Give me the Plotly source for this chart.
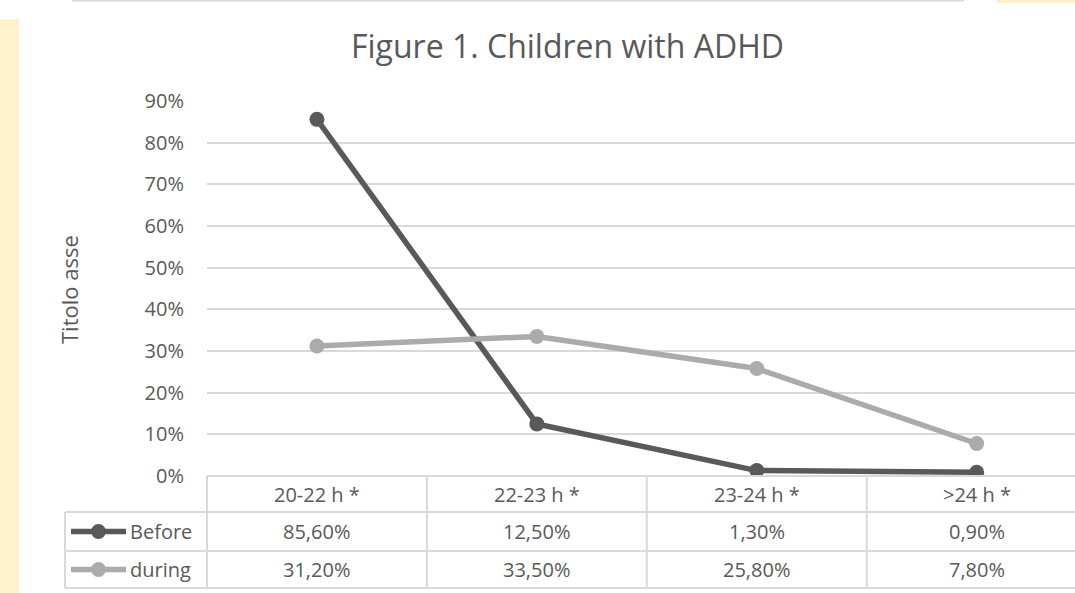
import plotly.graph_objects as go

categories = ["20-22 h *", "22-23 h *", "23-24 h *", ">24 h *"]
series_names = ["Before", "during"]
before = [0.856, 0.125, 0.013, 0.009]
during = [0.312, 0.335, 0.258, 0.078]
series_values = [before, during]
series_colors = ["#595959", "#ABABAB"]
y_ticks = [0, 0.1, 0.2, 0.3, 0.4, 0.5, 0.6, 0.7, 0.8, 0.9]

W, H = 1075, 593
FONT = "Open Sans"
TXT = "#595959"
GRID = "#D9D9D9"

def px(x):
    return x / W

def py(y):
    return 1 - y / H

# plot area in pixels
X0, X1 = 207, 1075
Y_TOP, Y_BOT = 101, 476
col_w = 219.9
x_range = [-0.5, -0.5 + (X1 - X0) / col_w]

fig = go.Figure()
xs = list(range(len(categories)))
for name, vals, col in zip(series_names, series_values, series_colors):
    fig.add_trace(go.Scatter(
        x=xs, y=vals, name=name, mode="lines+markers",
        line=dict(color=col, width=5.5),
        marker=dict(color=col, size=15),
        showlegend=False, hoverinfo="skip"))

shapes = []
annotations = []

# background decorations
shapes.append(dict(type="rect", xref="paper", yref="paper", x0=px(0), x1=px(19), y0=py(593), y1=py(19),
                   fillcolor="#FFF2CC", line=dict(width=0), layer="below"))
shapes.append(dict(type="rect", xref="paper", yref="paper", x0=px(997), x1=px(1075), y0=py(3), y1=py(0),
                   fillcolor="#FFF2CC", line=dict(width=0), layer="below"))
shapes.append(dict(type="line", xref="paper", yref="paper", x0=px(72), x1=px(964), y0=py(0.7), y1=py(0.7),
                   line=dict(color=GRID, width=1.5)))

# table geometry
row_y = [476, 512, 551, 588]
col_x = [X0 + i * col_w for i in range(len(categories) + 1)]
left_x = 65
line_style = dict(color=GRID, width=2)
shapes.append(dict(type="line", xref="paper", yref="paper", x0=px(X0), x1=1, y0=py(row_y[0]), y1=py(row_y[0]), line=line_style))
for ry in row_y[1:]:
    shapes.append(dict(type="line", xref="paper", yref="paper", x0=px(left_x), x1=1, y0=py(ry), y1=py(ry), line=line_style))
shapes.append(dict(type="line", xref="paper", yref="paper", x0=px(left_x), x1=px(left_x), y0=py(row_y[1]), y1=py(row_y[3]), line=line_style))
for cx in col_x:
    if cx <= W:
        shapes.append(dict(type="line", xref="paper", yref="paper", x0=px(cx), x1=px(cx), y0=py(row_y[0]), y1=py(row_y[3]), line=line_style))

tfont = dict(family=FONT, size=20, color=TXT)
# header row
for i, c in enumerate(categories):
    annotations.append(dict(x=i, xref="x", y=py((row_y[0] + row_y[1]) / 2), yref="paper",
                            text=c, showarrow=False, font=tfont, xanchor="center", yanchor="middle"))
# data rows
def fmt(v):
    return f"{v*100:.2f}".replace(".", ",") + "%"

for r, (name, vals, col) in enumerate(zip(series_names, series_values, series_colors)):
    yc = (row_y[r + 1] + row_y[r + 2]) / 2
    # legend key
    shapes.append(dict(type="line", xref="paper", yref="paper", x0=px(71), x1=px(126), y0=py(yc), y1=py(yc),
                       line=dict(color=col, width=5.5)))
    shapes.append(dict(type="circle", xref="paper", yref="paper", x0=px(91), x1=px(106), y0=py(yc + 7.5), y1=py(yc - 7.5),
                       fillcolor=col, line=dict(width=0)))
    annotations.append(dict(x=px(128), xref="paper", y=py(yc), yref="paper", text=name, showarrow=False,
                            font=tfont, xanchor="left", yanchor="middle"))
    for i, v in enumerate(vals):
        annotations.append(dict(x=i, xref="x", y=py(yc), yref="paper", text=fmt(v), showarrow=False,
                                font=tfont, xanchor="center", yanchor="middle"))

# title and axis title
annotations.append(dict(x=px(567), y=py(46), xref="paper", yref="paper", text="Figure 1. Children with ADHD",
                        showarrow=False, font=dict(family=FONT, size=32, color=TXT), xanchor="center", yanchor="middle"))
annotations.append(dict(x=px(69), y=py(290), xref="paper", yref="paper", text="Titolo asse", textangle=-90,
                        showarrow=False, font=dict(family=FONT, size=22, color=TXT), xanchor="center", yanchor="middle"))

fig.update_layout(
    width=W, height=H,
    margin=dict(l=0, r=0, t=0, b=0, autoexpand=False),
    paper_bgcolor="white", plot_bgcolor="white",
    shapes=shapes, annotations=annotations,
    xaxis=dict(domain=[px(X0), 1], range=x_range, showticklabels=False, showgrid=False,
               zeroline=False, showline=False, fixedrange=True, automargin=False),
    yaxis=dict(domain=[py(Y_BOT), py(Y_TOP)], range=[0, 0.9], tickvals=y_ticks, tickformat=".0%",
               showgrid=True, gridcolor=GRID, gridwidth=1.5, zeroline=False, showline=False,
               tickfont=dict(family=FONT, size=20, color=TXT), ticklabelstandoff=22, fixedrange=True,
               automargin=False),
)

fig.write_html("out.html", config={"displayModeBar": False},
               post_script="document.body.style.margin='0';document.body.style.overflow='hidden';")
